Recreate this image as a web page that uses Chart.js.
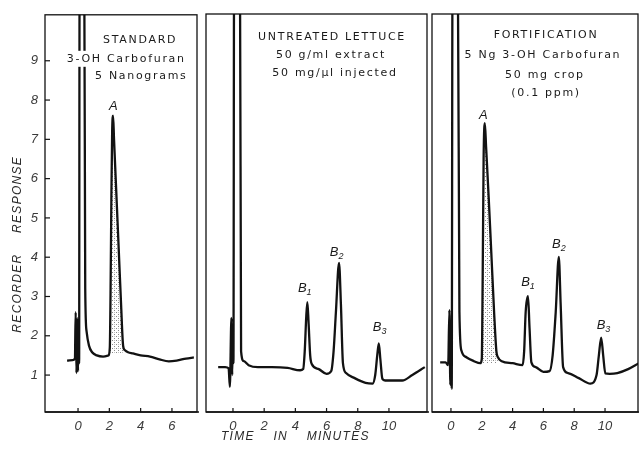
<!DOCTYPE html>
<html lang="en">
<head>
<meta charset="UTF-8">
<title>3-OH Carbofuran chromatograms</title>
<script src="https://cdn.jsdelivr.net/npm/chart.js@4"></script>
<style>
body{margin:0;background:#fff;width:639px;height:451px;overflow:hidden;position:relative}
canvas{position:absolute;top:0}
#cStd{left:0}
#cLet{left:200px}
#cFort{left:425px}
</style>
</head>
<body>
<canvas id="cStd" width="200" height="451"></canvas>
<canvas id="cLet" width="233" height="451"></canvas>
<canvas id="cFort" width="214" height="451"></canvas>
<script>
// shared axis values
const Y_TICKS=[1,2,3,4,5,6,7,8,9];
const Y_MIN=0.06, Y_MAX=10.17;
const STD_X_TICKS=[0,2,4,6];
const X_TICKS=[0,2,4,6,8,10];

// standard: minutes / recorder response (11 = off scale)
const STD_T=[-0.7,-0.35,-0.2,-0.15,-0.1,-0.05,0.0,0.04,0.07,0.1,0.4,0.46,0.55,0.7,0.9,1.2,1.6,1.95,2.03,2.08,2.13,2.18,2.24,2.3,2.45,2.6,2.75,2.88,3.0,3.2,3.5,4.0,4.6,5.2,5.8,6.3,6.9,7.4];
const STD_R=[1.37,1.38,1.42,2.6,1.05,2.45,1.1,2.2,1.3,11,11,3.2,2.1,1.75,1.58,1.5,1.47,1.5,1.7,3.2,5.5,7.2,7.6,7.0,5.6,4.2,2.8,1.75,1.63,1.58,1.55,1.5,1.47,1.4,1.35,1.37,1.42,1.45];
const STD_SHADE=[2.0,2.95,1.55];   // from, to, baseline
const STD_PEAKS=[["A","",2.25,7.85]];
const STD_NOTES=[["STANDARD",3.97,9.53],["3-OH Carbofuran",3.08,9.05],["5 Nanograms",4.04,8.62]];

// untreated lettuce
const LET_T=[-0.95,-0.5,-0.28,-0.2,-0.1,-0.05,0.0,0.03,0.07,0.45,0.52,0.7,1.0,1.6,2.5,3.5,4.3,4.5,4.6,4.7,4.77,4.85,4.95,5.05,5.5,6.0,6.3,6.45,6.6,6.8,6.92,7.05,7.25,7.8,8.5,8.95,9.12,9.25,9.35,9.45,9.58,9.75,10.3,10.85,11.5,12.3];
const LET_R=[1.2,1.2,1.17,0.7,2.45,1.0,2.2,1.3,11,11,1.6,1.35,1.25,1.2,1.2,1.18,1.12,1.15,1.6,2.5,2.85,2.3,1.5,1.28,1.15,1.03,1.1,1.6,2.6,3.85,2.8,1.3,1.05,0.92,0.8,0.78,1.0,1.5,1.8,1.4,0.9,0.86,0.86,0.86,1.0,1.2];
const LET_PEAKS=[["B","1",4.6,3.2],["B","2",6.65,4.12],["B","3",9.4,2.2]];
const LET_NOTES=[["UNTREATED LETTUCE",6.35,9.59],["50 g/ml extract",6.28,9.13],["50 mg/\u00b5l injected",6.54,8.67]];

// fortification
const FORT_T=[-0.7,-0.35,-0.18,-0.1,-0.04,0.0,0.05,0.1,0.45,0.55,0.68,1.0,1.5,1.9,2.0,2.06,2.12,2.2,2.28,2.45,2.62,2.8,2.95,3.05,3.3,4.0,4.65,4.75,4.85,5.0,5.1,5.22,5.5,6.0,6.4,6.6,6.8,7.0,7.12,7.28,7.6,8.3,9.05,9.45,9.6,9.75,9.88,10.02,10.3,10.8,11.5,12.2];
const FORT_R=[1.32,1.32,1.25,2.65,0.75,2.3,0.65,11,11,2.6,1.62,1.45,1.35,1.3,1.4,3.5,6.5,7.4,6.8,5.5,4.1,2.6,1.6,1.45,1.35,1.3,1.25,1.6,2.6,3.0,2.2,1.32,1.2,1.08,1.1,1.5,2.6,4.0,2.8,1.2,1.05,0.92,0.78,1.0,1.5,1.95,1.5,1.04,1.03,1.05,1.15,1.3];
const FORT_SHADE=[1.95,3.05,1.3];
const FORT_PEAKS=[["A","",2.1,7.6],["B","1",5.0,3.35],["B","2",7.0,4.32],["B","3",9.9,2.25]];
const FORT_NOTES=[["FORTIFICATION",6.17,9.64],["5 Ng 3-OH Carbofuran",5.97,9.13],["50 mg crop",6.1,8.62],["(0.1 ppm)",6.17,8.16]];

Chart.defaults.font.family='"Liberation Sans", sans-serif';
const INK='#121212';

function stipple(){
  const c=document.createElement('canvas');c.width=c.height=4;
  const g=c.getContext('2d');
  g.fillStyle='#8a8a8a';g.fillRect(0,0,1,1);g.fillRect(2,2,1,1);
  g.fillStyle='#c4c4c4';g.fillRect(2,0,1,1);
  return g.createPattern(c,'repeat');
}
const pts=(T,R)=>T.map((t,i)=>({x:t,y:R[i]}));

const decor={
  id:'decor',
  afterDatasetsDraw(chart,_,o){
    const {ctx,scales:{x,y}}=chart;
    ctx.save();
    ctx.font='11px "DejaVu Sans"';ctx.letterSpacing='1.7px';
    ctx.textAlign='center';ctx.textBaseline='middle';
    o.notes.forEach(([txt,t,r])=>{
      const px=x.getPixelForValue(t),py=y.getPixelForValue(r),w=ctx.measureText(txt).width;
      ctx.fillStyle='#fff';ctx.fillRect(px-w/2-2,py-8,w+4,16);
      ctx.fillStyle='#1a1a1a';ctx.fillText(txt,px,py);
    });
    ctx.letterSpacing='0px';ctx.textAlign='left';
    o.peaks.forEach(([name,sub,t,r])=>{
      ctx.font='italic 13px "Liberation Sans"';
      const w1=ctx.measureText(name).width;
      ctx.font='italic 9px "Liberation Sans"';
      const w2=sub?ctx.measureText(sub).width:0;
      const px=x.getPixelForValue(t)-(w1+w2)/2,py=y.getPixelForValue(r);
      ctx.fillStyle='#1a1a1a';
      ctx.font='italic 13px "Liberation Sans"';ctx.fillText(name,px,py);
      if(sub){ctx.font='italic 9px "Liberation Sans"';ctx.fillText(sub,px+w1,py+4);}
    });
    ctx.restore();
  },
  afterDraw(chart,_,o){
    const {ctx,chartArea:a,scales:{x,y}}=chart;
    ctx.save();
    ctx.strokeStyle='#111';ctx.lineWidth=1.3;
    ctx.strokeRect(a.left,a.top,a.right-a.left,a.bottom-a.top);
    ctx.lineWidth=1.7;
    ctx.beginPath();ctx.moveTo(a.left,a.bottom);ctx.lineTo(a.right+2,a.bottom);ctx.stroke();
    ctx.lineWidth=1.2;
    x.ticks.forEach(tk=>{
      const px=x.getPixelForValue(tk.value);
      ctx.beginPath();ctx.moveTo(px,a.bottom);ctx.lineTo(px,a.bottom-4);ctx.stroke();
    });
    if(o.yTicks){
      y.ticks.forEach(tk=>{
        const py=y.getPixelForValue(tk.value);
        ctx.beginPath();ctx.moveTo(a.left,py);ctx.lineTo(a.left+5,py);ctx.stroke();
      });
    }
    ctx.fillStyle='#2a2a2a';ctx.textAlign='center';ctx.textBaseline='middle';
    ctx.font='italic 12px "Liberation Sans"';ctx.letterSpacing='1.3px';
    if(o.yTitle){
      ctx.save();
      ctx.translate(a.left-27,y.getPixelForValue(o.yTitle[1]));
      ctx.rotate(-Math.PI/2);
      ctx.wordSpacing='16px';
      ctx.fillText(o.yTitle[0],0,0);
      ctx.restore();
    }
    if(o.xTitle){
      ctx.wordSpacing='14px';
      ctx.fillText(o.xTitle[0],x.getPixelForValue(o.xTitle[1]),a.bottom+25);
    }
    ctx.restore();
  }
};

function panel(id,T,R,shade,xMin,xMax,xTicks,pad,opts){
  const data=pts(T,R);
  const sets=[{data,borderColor:INK,borderWidth:2.3,pointRadius:0,fill:false,
    cubicInterpolationMode:'monotone',order:0}];
  if(shade){
    sets.push({data:data.filter(p=>p.x>=shade[0]&&p.x<=shade[1]),borderWidth:0,pointRadius:0,
      backgroundColor:stipple(),fill:{value:shade[2]},cubicInterpolationMode:'monotone',order:1});
  }
  const showY=!!opts.yTicks;
  return new Chart(document.getElementById(id),{
    type:'line',
    data:{datasets:sets},
    options:{
      animation:false,responsive:false,devicePixelRatio:1,
      layout:{padding:pad},
      plugins:{legend:{display:false},tooltip:{enabled:false},decor:opts},
      scales:{
        x:{type:'linear',min:xMin,max:xMax,
          afterBuildTicks:s=>{s.ticks=xTicks.map(v=>({value:v}));},
          afterFit:s=>{s.height=39;},
          grid:{display:false,drawTicks:false},border:{display:false},
          ticks:{font:{size:13,style:'italic'},color:'#3a3a3a',padding:7,maxRotation:0,autoSkip:false}},
        y:{type:'linear',min:Y_MIN,max:Y_MAX,display:showY,
          afterBuildTicks:s=>{s.ticks=Y_TICKS.map(v=>({value:v}));},
          afterFit:s=>{s.width=showY?45:0;},
          grid:{display:false,drawTicks:false},border:{display:false},
          ticks:{font:{size:13,style:'italic'},color:'#3a3a3a',padding:7}}
      }
    },
    plugins:[decor]
  });
}

panel('cStd',STD_T,STD_R,STD_SHADE,-2.11,7.6,STD_X_TICKS,{left:0,right:3,top:14,bottom:0},
  {notes:STD_NOTES,peaks:STD_PEAKS,yTicks:true,yTitle:['RECORDER RESPONSE',4.33]});
panel('cLet',LET_T,LET_R,null,-1.73,12.44,X_TICKS,{left:6,right:6,top:14,bottom:0},
  {notes:LET_NOTES,peaks:LET_PEAKS,xTitle:['TIME IN MINUTES',4.0]});
panel('cFort',FORT_T,FORT_R,FORT_SHADE,-1.23,12.14,X_TICKS,{left:7,right:1,top:14,bottom:0},
  {notes:FORT_NOTES,peaks:FORT_PEAKS});
</script>
</body>
</html>
